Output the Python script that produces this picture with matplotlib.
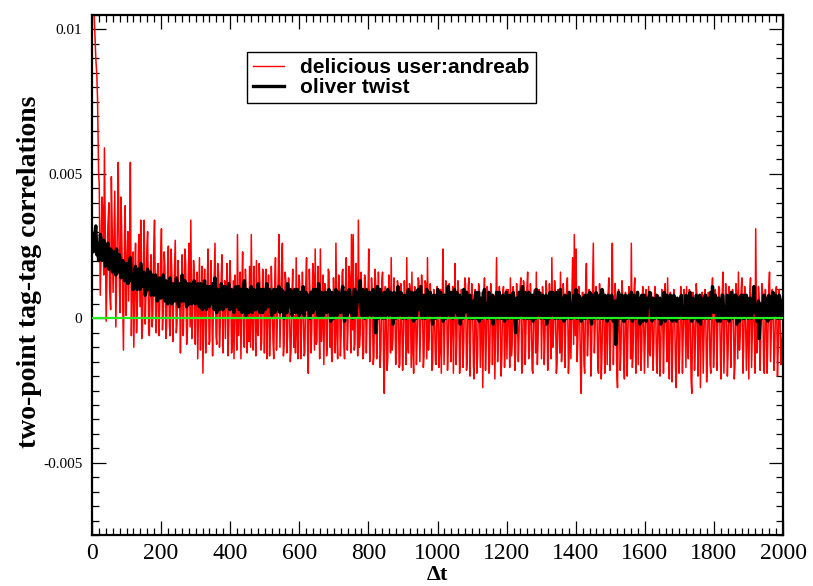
import numpy as np
import matplotlib
matplotlib.use("Agg")
import matplotlib.pyplot as plt
from matplotlib.ticker import FixedLocator, FixedFormatter, MultipleLocator

# correlation values in units of 1e-3
# "_a" lists hold dt = 1, 6, 11, ...; "_b" lists hold dt = 4, 9, 14, ...
delicious_a_e3 = [
    11.5, 10.6, 9.0, 7.6, 4.6, 2.1, 3.8, 5.9, -0.1, 3.2, 1.0, 4.9, 0.9, 4.4, 1.2, 5.4, 0.2, 3.0, -1.1, 3.9,
    1.8, 0.6, 5.4, 1.1, -1.0, 2.6, 0.3, 2.9, 3.4, -0.4, 3.4, 0.8, 3.0, -0.6, 2.2, 0.1, 3.4, -0.5, 1.9, 0.4,
    3.1, 0.2, 1.8, -0.3, 2.5, -0.6, 1.6, 0.5, 2.7, -0.2, 1.3, -1.2, 2.2, 0.4, 1.9, -0.5, 2.6, 3.4, -0.1, 1.5,
    0.9, -1.4, 2.1, 0.3, -1.9, 1.7, -0.4, 2.4, -0.8, 1.2, 0.1, 2.6, -0.9, 1.6, -0.3, 2.2, 0.5, -0.7, 1.9, -0.2,
    1.4, -0.9, -1.4, 0.6, 2.9, 0.2, -1.4, 2.3, -1.0, 1.1, 0.3, 1.8, 2.9, -1.1, 0.7, 2.0, -0.6, 1.2, -0.8, 1.6,
    0.4, -1.4, 1.5, -0.5, 0.9, -1.4, 2.1, -0.3, 2.9, 0.2, 2.6, -0.9, 1.3, -0.6, 0.8, -1.1, 1.7, 0.1, 2.1, -1.4,
    1.2, -0.7, 0.6, -1.2, 2.1, -1.9, 0.9, -0.4, 1.5, 2.4, -0.8, 0.7, 2.4, -0.2, -1.6, 1.0, -0.9, 1.6, 0.2, -1.1,
    0.5, 2.6, -1.4, 1.1, -0.6, 1.7, -1.4, 2.1, -0.3, 1.4, 2.9, 2.9, -0.9, 1.2, 3.4, -0.5, 0.8, -1.2, 1.3, -0.1,
    2.4, -0.8, 0.9, -1.3, 1.2, -0.4, 0.6, -1.1, 1.6, -2.6, 0.3, -1.4, 1.0, 2.1, -0.7, 0.8, -1.2, 1.1, -1.6, 0.4,
    -0.9, 0.7, 2.1, -1.2, 1.0, 1.6, -1.9, 0.5, -0.8, 1.3, -0.3, 0.9, -1.3, 1.2, 2.1, -0.6, 0.8, -1.6, 0.3, -1.6,
    0.6, -1.2, -1.9, 2.4, -0.5, 1.1, -1.0, 0.7, -0.3, -1.9, 1.9, -0.7, 0.9, -1.4, 0.4, -0.8, 1.2, -1.5, 1.4, -0.4,
    0.8, -2.1, 0.3, -1.3, 1.0, -0.6, -2.4, 1.4, -0.9, 0.6, -1.5, 0.9, -0.2, -2.1, 2.1, -0.7, 0.5, -1.4, 1.1, -0.8,
    -1.4, 0.4, 1.4, -0.9, 0.7, -1.2, 0.2, -0.6, 1.4, -1.6, 0.9, -0.4, 1.6, -1.1, 0.5, -1.9, 1.0, 1.6, -0.8, 0.3,
    -1.4, 0.6, -0.7, 1.0, -1.1, 0.4, 2.1, -0.5, 0.8, -1.6, 0.2, 1.6, -0.9, 0.7, -0.3, 1.4, -1.2, -1.4, 2.1, 2.9,
    2.4, -0.8, 0.5, -2.6, 0.9, -1.9, 1.9, -0.6, 0.7, -1.0, 2.6, -0.4, 0.6, -1.9, 0.3, -1.2, 0.9, -0.7, -1.6, 1.4,
    -0.9, 2.6, -0.3, 0.7, -2.4, 0.5, -1.1, 0.8, -2.1, 0.4, -0.6, 0.9, 2.6, -1.2, 1.4, -0.4, -1.6, 0.6, -1.0, 0.3,
    -0.7, 0.6, 1.1, -1.3, 0.4, -0.9, 0.7, -1.9, 0.2, -1.1, 0.8, -0.5, 0.3, 1.4, -2.1, 0.6, -0.8, 0.4, -2.4, 0.5,
    -1.2, 0.8, -0.6, 0.3, 1.1, -1.4, 0.5, -2.6, 0.6, -1.0, 0.7, -0.5, -2.4, 0.9, -0.8, 0.4, -1.3, 0.6, -1.9, 1.4,
    -0.9, 0.7, -0.3, 1.0, -2.1, 1.6, -0.7, 0.5, -1.2, 0.8, -0.4, 0.6, -1.6, 0.9, 1.6, -0.6, 1.4, -1.1, 0.5, -0.8,
    -2.1, 1.4, -0.6, 0.4, 3.1, -1.0, 0.7, -0.4, 0.9, -1.9, 0.3, -0.8, 1.6, -0.5, 0.6, -1.2, 1.1, -1.1, 0.2, -0.9,
]
delicious_b_e3 = [
    11.0, 9.6, 8.4, 5.1, 0.8, 4.2, 1.5, 2.4, 1.9, 4.0, 0.3, 2.7, 3.1, -0.3, 3.6, 1.4, 4.2, 0.5, 2.8, 0.1,
    3.0, 2.7, -0.6, 2.3, 1.5, -0.5, 2.2, 0.4, -0.7, 2.1, -0.2, 2.5, -0.4, 1.7, -0.3, 2.6, 0.2, 1.5, -0.6, 2.2,
    -0.4, 2.3, -0.7, 1.9, -0.2, 2.4, -0.8, 1.8, -0.5, 2.0, 0.6, 1.1, -0.6, 2.4, -0.9, 1.7, -0.3, -0.7, 2.0, -0.9,
    1.6, 0.8, -1.1, 1.8, 0.9, -1.2, 1.5, -0.9, 2.0, -1.3, 1.7, -0.6, 1.9, -1.0, 1.4, -1.2, 1.3, 1.1, -1.3, 2.0,
    -1.2, 1.3, 1.5, -1.1, -0.6, 1.6, 1.2, -0.9, 1.7, -1.2, -0.8, -1.0, -0.2, 1.8, -1.3, -0.5, 1.9, -1.1, 1.7, -1.2,
    1.7, 0.6, -1.3, 1.8, -0.8, 1.2, -1.1, 1.5, -1.0, 1.9, -1.3, 1.6, -1.2, 1.4, -1.5, 0.9, -1.0, -1.2, -0.7, 1.5,
    -1.4, 1.6, -1.3, 1.3, -0.9, 1.7, -1.2, 1.9, -1.1, -0.9, 1.8, -1.4, -0.8, 1.5, 1.2, -1.3, 1.7, -1.0, -1.5, 1.4,
    -1.2, -0.6, 1.5, -1.3, 1.6, -0.9, 1.2, -1.1, 1.8, -1.2, -0.4, -1.1, 1.9, -1.3, -1.0, 1.6, -1.4, 1.5, -1.2, 0.9,
    -1.5, 1.4, -1.6, 1.7, -1.4, 1.6, -1.7, 1.3, -1.5, 1.1, -1.8, 1.5, -1.2, -1.1, 1.4, -1.6, 1.3, -1.7, 1.2, -1.8,
    1.3, -1.6, -1.0, 1.2, -1.7, -1.2, 1.1, -1.6, 1.4, -1.5, 1.5, -1.7, 1.3, -1.4, -1.1, 1.2, -1.8, 1.0, -1.5, 1.1,
    -1.7, 1.0, 0.9, -1.6, 1.3, -1.8, 1.2, -1.5, 1.1, 0.6, -1.6, 1.3, -1.9, 1.0, -1.7, 1.4, -1.8, 1.1, -2.0, 1.2,
    -1.6, 1.0, -1.9, 1.2, -1.7, 0.9, 0.6, -1.8, 1.1, -1.9, 1.2, -1.6, 0.8, 0.5, -1.5, 1.1, -2.0, 0.9, -1.7, 1.0,
    1.0, -1.7, -1.3, 1.1, -1.8, 1.2, -1.5, 1.0, -1.9, 1.3, -1.6, 1.1, -1.4, 1.2, -1.8, 0.9, -1.2, -1.6, 1.0, 0.9,
    1.1, -1.6, 1.3, -1.8, 1.2, -1.4, -1.0, 1.3, -1.9, 1.0, -1.2, -1.5, 1.2, -1.7, 1.1, -1.9, 0.8, 0.6, -0.9, -0.6,
    -1.5, 1.1, -1.8, 0.9, -1.6, 1.2, -1.3, 1.0, -2.0, 1.3, -1.2, 1.1, -1.7, 1.2, -2.1, 1.0, -1.9, 0.8, 0.9, -1.8,
    1.0, -1.6, 1.2, -1.9, 1.0, -1.8, 1.3, -1.5, 0.9, -2.0, 1.1, -1.4, -1.7, 1.0, -1.9, 0.8, 0.7, -1.8, 1.1, -1.9,
    1.0, -1.7, -1.2, 0.9, -1.8, 1.1, -1.6, 0.8, -2.0, 1.0, -1.9, 1.2, -1.5, -1.3, 0.9, -2.2, 1.0, -1.7, 0.7, -1.9,
    1.1, -1.9, 1.0, -1.7, -0.9, 1.0, -2.1, 0.9, -1.8, 1.2, -2.0, 0.8, 0.7, -1.9, 1.0, -2.2, 0.9, -1.6, 0.8, -1.7,
    1.0, -1.8, 1.1, -1.5, 0.8, -1.9, 1.2, -2.0, 1.1, -1.7, 1.0, -2.1, 1.2, -1.4, -1.1, 1.0, -1.9, 1.1, -1.8, 0.7,
    0.9, -1.7, 1.0, -1.9, -1.2, 1.1, -1.8, 1.2, -1.6, 1.0, -1.9, 1.1, -1.5, 1.0, -1.8, 0.9, -2.0, 1.0, -1.6, -0.4,
]
oliver_a_e3 = [
    2.9, 2.4, 3.2, 2.6, 2.3, 2.8, 2.1, 2.5, 2.0, 2.6, 1.9, 2.3, 1.7, 2.2, 2.4, 1.6, 2.1, 1.5, 1.9, 1.4,
    1.9, 1.3, 2.1, 1.5, 1.2, 1.8, 1.0, 1.6, 1.9, 1.1, 1.4, 0.9, 1.7, 1.2, 0.8, 1.5, 1.0, 1.3, 0.7, 1.4,
    1.0, 1.5, 0.6, 1.2, 0.8, 1.4, 0.5, 1.1, 0.9, 1.3, 0.4, 1.0, 1.5, 0.6, 0.9, 1.2, 0.5, 1.1, 0.7, 1.3,
    0.6, 1.2, 0.4, 1.0, 0.7, 1.3, 0.3, 0.9, 1.1, 0.5, 0.8, 1.4, 0.2, 0.9, 0.6, 1.1, 0.4, 1.0, 0.7, 1.2,
    0.5, 0.9, 0.2, 1.1, 0.6, 0.3, 1.0, 0.7, 1.3, 0.1, 0.8, 0.5, 1.1, 0.3, 0.9, 0.6, 1.2, 0.2, 0.7, 1.0,
    0.3, 1.2, 0.5, 0.8, 0.1, 1.0, 0.6, 0.3, 1.1, 0.4, 0.9, 0.0, 0.7, 1.2, 0.4, 0.8, 0.2, 1.0, 0.5, 0.7,
    0.9, 0.2, 1.1, 0.5, 0.3, 0.8, 0.0, 0.7, 1.0, 0.4, 0.6, 1.2, 0.1, 0.8, 0.3, 0.9, 0.5, 1.0, -0.1, 0.6,
    0.4, 1.0, 0.2, 0.8, 0.5, 1.1, -0.1, 0.6, 0.3, 0.9, 0.7, 0.2, 1.0, 0.4, 0.6, 1.3, 0.1, 0.7, 0.4, 0.9,
    0.2, 0.8, 0.5, 0.9, -0.5, 1.1, 0.3, 0.7, 0.0, 0.9, 0.4, 1.0, 0.2, 0.6, -0.2, 0.8, 0.5, 1.1, 0.3, 0.7,
    0.1, 0.7, 0.4, 1.0, 0.2, 0.6, -0.1, 0.8, 0.5, 0.3, 1.1, 0.0, 0.6, 0.4, 0.9, 0.2, 0.7, -0.2, 0.5, 0.8,
    1.0, 0.3, 0.6, -0.1, 0.8, 0.4, 1.1, 0.1, 0.7, 0.5, 0.2, 0.9, 0.4, -0.2, 0.6, 1.0, 0.3, 0.7, 0.0, 0.5,
    0.6, 0.2, 0.9, 0.4, -0.1, 0.7, 0.3, 1.0, 0.5, 0.1, 0.8, 0.4, -0.2, 0.6, 0.9, 0.2, 0.5, 0.0, 0.7, 0.3,
    0.8, 0.1, 0.5, 0.3, 0.7, -0.5, 0.4, 0.9, 0.2, 1.1, 0.3, 0.6, 0.0, 0.8, 0.4, -0.1, 0.6, 1.0, 0.2, 0.5,
    0.1, 0.7, 0.4, -0.2, 0.6, 0.9, 0.2, 0.5, 0.0, 0.8, 0.3, 1.0, 0.4, -0.1, 0.7, 0.2, 0.9, 0.5, 0.1, 0.6,
    1.0, 0.3, 0.6, -0.1, 0.4, 0.8, 0.2, 0.5, 0.9, -0.2, 0.6, 0.3, 0.7, 0.1, 0.5, 1.0, 0.2, 0.4, -0.1, 0.7,
    0.3, 0.6, 0.1, -0.9, 0.5, 0.8, 0.2, 0.4, -0.1, 0.7, 0.3, 0.5, 0.9, 0.0, 0.6, 0.2, 0.4, -0.2, 0.8, 0.3,
    0.6, 0.1, 0.4, 0.8, -0.1, 0.5, 0.2, 0.7, 0.3, -0.2, 0.6, 0.9, 0.1, 0.4, 0.0, 0.7, 0.3, 0.5, -0.1, 0.6,
    0.2, 0.8, 0.4, 0.0, 0.6, 0.3, 0.9, -0.1, 0.5, 0.2, 0.7, 0.4, -0.2, 0.6, 0.3, 0.8, 0.1, 0.5, 0.9, 1.1,
    0.3, 0.7, -0.1, 0.5, 0.2, 0.8, 0.4, 0.0, 0.6, 0.3, 0.9, 0.1, 0.5, -0.2, 0.7, 0.4, 0.2, 0.8, 0.3, 0.6,
    0.1, 0.6, 0.3, 1.1, 0.4, 0.0, -0.7, 0.5, 0.2, 0.8, 0.3, -0.1, 0.6, 0.4, 0.9, 0.2, 0.5, 0.0, 0.7, 0.3,
]
oliver_b_e3 = [
    2.3, 3.0, 2.2, 2.0, 2.9, 2.0, 2.7, 1.8, 2.5, 1.7, 2.4, 1.6, 2.3, 1.5, 1.8, 2.2, 1.4, 2.0, 1.3, 1.9,
    1.2, 1.9, 1.3, 1.0, 1.7, 1.1, 1.7, 1.0, 1.3, 1.6, 0.8, 1.5, 1.0, 1.6, 1.2, 0.8, 1.5, 0.6, 1.3, 0.7,
    1.4, 0.7, 1.3, 0.5, 1.3, 0.6, 1.2, 0.6, 1.4, 0.5, 1.2, 0.6, 0.8, 1.3, 0.4, 0.8, 1.2, 0.5, 1.2, 0.5,
    1.1, 0.5, 1.2, 0.3, 1.2, 0.4, 1.1, 0.4, 0.6, 1.2, 0.3, 0.7, 1.0, 0.3, 1.2, 0.3, 1.1, 0.4, 1.1, 0.3,
    1.0, 0.3, 1.0, 0.4, 1.1, 0.9, 0.2, 1.1, 0.4, 1.0, 0.2, 1.0, 0.2, 1.0, 0.3, 1.0, 0.3, 1.0, 0.2, 0.5,
    0.9, 0.4, 1.0, 0.2, 0.9, 0.2, 1.0, 0.8, 0.2, 1.0, 0.3, 0.9, 0.2, 0.5, 1.0, 0.1, 0.9, 0.2, 1.0, 0.1,
    0.3, 0.9, 0.1, 0.9, 0.8, 0.1, 0.9, 0.2, 0.3, 1.0, 0.1, 0.4, 0.9, 0.1, 0.9, 0.2, 0.9, 0.2, 0.9, 0.0,
    0.9, 0.1, 0.9, 0.2, 1.0, 0.2, 0.9, 0.1, 1.0, 0.2, 0.0, 1.0, 0.1, 0.9, 0.8, 0.3, 1.0, 0.0, 1.0, 0.1,
    0.9, 0.1, 1.0, 0.0, 0.6, 0.0, 1.0, 0.1, 0.8, 0.0, 0.9, 0.1, 0.9, 0.1, 0.9, 0.0, 0.9, 0.1, 0.9, 0.0,
    0.8, 0.0, 0.9, 0.1, 0.9, 0.0, 0.9, 0.0, 1.0, 0.9, 0.2, 0.8, 0.0, 1.0, 0.1, 0.9, 0.0, 0.8, 0.0, 0.2,
    0.1, 0.9, 0.0, 0.8, 0.0, 0.9, 0.2, 0.9, 0.0, 1.0, 0.8, 0.1, 0.8, 0.7, 0.0, 0.2, 0.9, 0.1, 0.8, 0.0,
    0.0, 0.8, 0.0, 0.9, 0.6, 0.0, 0.9, 0.1, 0.0, 0.9, 0.0, 0.8, 0.7, 0.1, 0.0, 0.9, 0.0, 0.8, -0.1, 0.9,
    0.0, 0.8, 0.0, 0.9, 0.1, 0.7, 0.0, 0.1, 0.9, 0.0, 0.9, 0.0, 0.9, 0.0, 0.8, 0.8, 0.0, 0.1, 0.9, 0.0,
    0.8, 0.0, 0.8, 0.7, 0.0, 0.1, 0.9, 0.0, 0.9, 0.0, 0.9, 0.0, 0.7, 0.8, 0.0, 0.8, 0.0, 0.0, 0.8, 0.1,
    0.0, 0.8, 0.0, 0.7, 0.0, 0.0, 0.8, 0.0, 0.1, 0.8, 0.0, 0.9, 0.0, 0.8, 0.0, 0.0, 0.8, 0.0, 0.8, 0.0,
    0.8, -0.1, 0.6, -0.2, 0.9, 0.0, 0.8, -0.1, 0.8, 0.0, 0.8, 0.0, -0.1, 0.8, 0.0, 0.9, 0.5, 0.7, -0.1, 0.8,
    -0.1, 0.7, 0.9, 0.0, 0.7, 0.0, 0.8, 0.0, 0.7, 0.6, 0.0, -0.1, 0.8, 0.0, 0.8, -0.1, 0.8, 0.0, 0.7, 0.0,
    0.7, 0.0, 0.0, 0.8, 0.0, 0.8, 0.0, 0.7, 0.0, 0.8, -0.1, 0.8, 0.7, 0.0, 0.8, 0.0, 0.7, 0.0, 0.4, 0.2,
    0.8, 0.0, 0.7, -0.1, 0.8, 0.0, 0.0, 0.8, -0.1, 0.8, 0.0, 0.8, 0.8, 0.6, -0.1, 0.8, 0.0, 0.0, 0.8, 0.0,
    0.7, 0.0, 0.8, 0.2, -0.1, 0.6, 0.0, 0.0, 0.8, 0.0, 0.7, 0.8, 0.0, 0.0, 0.1, 0.8, 0.0, 0.8, 0.0, 0.6,
]
labels = ["delicious user:andreab", "oliver twist"]
y_ticks = [-0.005, 0.0, 0.005, 0.01]
y_tick_labels = ["-0.005", "0", "0.005", "0.01"]
x_ticks = [0, 200, 400, 600, 800, 1000, 1200, 1400, 1600, 1800, 2000]

n = len(delicious_a_e3)
dt = np.column_stack([1 + 5 * np.arange(n), 4 + 5 * np.arange(n)]).ravel()
red = np.column_stack([delicious_a_e3, delicious_b_e3]).ravel() * 1e-3
blk = np.column_stack([oliver_a_e3, oliver_b_e3]).ravel() * 1e-3

fig = plt.figure(figsize=(8.13, 5.86), dpi=100)
ax = fig.add_axes([92/813, 1 - 535/586, 691/813, 520/586])

ax.plot(dt, red, color="red", lw=1.1, label=labels[0], zorder=2)
ax.plot(dt, blk, color="black", lw=2.4, label=labels[1], zorder=3)
ax.axhline(0, color="#22ee22", lw=1.6, zorder=4)

ax.set_xlim(0, 2000)
ax.set_ylim(-0.0075, 0.0105)

ax.set_xticks(x_ticks)
ax.set_xticklabels([str(v) for v in x_ticks], fontsize=17, family="Liberation Serif")
ax.xaxis.set_minor_locator(MultipleLocator(20))
ax.yaxis.set_major_locator(FixedLocator(y_ticks))
ax.yaxis.set_major_formatter(FixedFormatter(y_tick_labels))
ax.yaxis.set_minor_locator(MultipleLocator(0.0005))
for t in ax.get_yticklabels():
    t.set_fontsize(11)
    t.set_family("Liberation Serif")

ax.tick_params(which="both", direction="in", top=True, right=True)
ax.tick_params(which="major", length=10, width=0.9)
ax.tick_params(which="minor", length=5, width=0.9)
ax.tick_params(axis="y", pad=7)
ax.tick_params(axis="x", pad=6)
for s in ax.spines.values():
    s.set_linewidth(1.6)

# x label sits just below the tick labels, as low as the canvas allows
fig.text(437/813, 1/586, "\u0394t", ha="center", va="bottom",
         fontsize=16, fontweight="bold", family="Liberation Serif")
fig.text(30/813, 1 - 272/586, "two-point tag-tag correlations", rotation=90,
         ha="center", va="center", fontsize=20, fontweight="bold", family="Liberation Serif")

leg = ax.legend(loc="upper left", bbox_to_anchor=(0.224, 0.929),
                prop={"family": "Liberation Sans", "weight": "bold", "size": 15},
                frameon=True, fancybox=False, framealpha=1, edgecolor="black",
                handlelength=1.5, handletextpad=0.75, labelspacing=0.05, borderpad=0.3,
                borderaxespad=0)
leg.get_frame().set_linewidth(1.0)
leg.get_lines()[0].set_linewidth(1.0)
leg.get_lines()[1].set_linewidth(2.4)

fig.savefig("out.png", dpi=100)
